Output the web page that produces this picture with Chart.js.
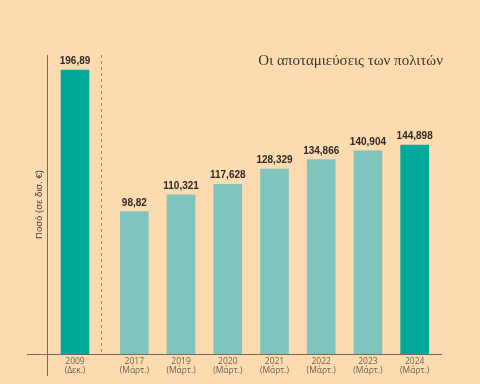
<!DOCTYPE html>
<html>
<head>
<meta charset="utf-8">
<script src="https://cdn.jsdelivr.net/npm/chart.js@4"></script>
<style>
  html, body { margin: 0; padding: 0; background: #fddbb1; }
  #wrap { width: 480px; height: 384px; }
</style>
</head>
<body>
<div id="wrap"><canvas id="apotamieuseis"></canvas></div>
<script>
const etiketesEtos = ["2009", "2017", "2019", "2020", "2021", "2022", "2023", "2024"];
const etiketesMinas = ["(Δεκ.)", "(Μάρτ.)", "(Μάρτ.)", "(Μάρτ.)", "(Μάρτ.)", "(Μάρτ.)", "(Μάρτ.)", "(Μάρτ.)"];
const poso = [196.89, 98.82, 110.321, 117.628, 128.329, 134.866, 140.904, 144.898];
const posoKeimeno = ["196,89", "98,82", "110,321", "117,628", "128,329", "134,866", "140,904", "144,898"];
const titlos = "Οι αποταμιεύσεις των πολιτών";
const titlosAxona = "Ποσό (σε δισ. €)";

// extra space between 2009 and the rest (in bar slots)
const kenoOmadas = 0.27;
const theseis = poso.map((v, i) => i === 0 ? 0 : i + kenoOmadas);

const skouroPrasino = "#00a99a";
const anoixtoPrasino = "#80c4be";
const xromata = poso.map((v, i) => (i === 0 || i === poso.length - 1) ? skouroPrasino : anoixtoPrasino);

const grammesPlugin = {
    id: "grammes",
    beforeDatasetsDraw(chart) {
        const ctx = chart.ctx;
        const x = chart.scales.x;
        const y = chart.scales.y;
        const base = y.getPixelForValue(0);
        const left = chart.chartArea.left;
        ctx.save();
        ctx.strokeStyle = "#7a6a5a";
        ctx.lineWidth = 1;
        // y axis line
        ctx.beginPath();
        ctx.moveTo(Math.round(left) - 0.5, 55);
        ctx.lineTo(Math.round(left) - 0.5, 376);
        ctx.stroke();
        // baseline
        ctx.beginPath();
        ctx.moveTo(27, Math.round(base) + 0.5);
        ctx.lineTo(442, Math.round(base) + 0.5);
        ctx.stroke();
        // dashed separator
        const dx = (x.getPixelForValue(theseis[0]) + x.getPixelForValue(theseis[1])) / 2 - 4;
        ctx.strokeStyle = "#9a8a7a";
        ctx.setLineDash([3, 3]);
        ctx.beginPath();
        ctx.moveTo(Math.round(dx) + 0.5, 55);
        ctx.lineTo(Math.round(dx) + 0.5, base);
        ctx.stroke();
        ctx.restore();
    },
    afterDraw(chart) {
        const ctx = chart.ctx;
        const meta = chart.getDatasetMeta(0);
        const area = chart.chartArea;
        ctx.save();
        ctx.fillStyle = "#2e2a26";
        ctx.font = "bold 10px 'Liberation Sans'";
        ctx.textAlign = "center";
        ctx.textBaseline = "alphabetic";
        meta.data.forEach((bar, i) => {
            ctx.fillText(posoKeimeno[i], bar.x, bar.y - 6);
        });
        ctx.fillStyle = "#3a3530";
        ctx.font = "15px 'Liberation Serif'";
        ctx.textAlign = "right";
        ctx.textBaseline = "middle";
        ctx.fillText(titlos, 443, 61);
        // y axis title
        ctx.fillStyle = "#4a4038";
        ctx.font = "500 9.5px 'Liberation Sans'";
        ctx.textAlign = "center";
        ctx.translate(39, (area.top + area.bottom) / 2);
        ctx.rotate(-Math.PI / 2);
        ctx.fillText(titlosAxona, 0, 0);
        ctx.restore();
    }
};

new Chart(document.getElementById("apotamieuseis"), {
    type: "bar",
    data: {
        datasets: [{
            data: poso.map((v, i) => ({ x: theseis[i], y: v })),
            backgroundColor: xromata,
            barThickness: 28,
            borderWidth: 0
        }]
    },
    plugins: [grammesPlugin],
    options: {
        responsive: true,
        maintainAspectRatio: false,
        animation: false,
        layout: { padding: { left: 48, right: 38, top: 55, bottom: 0 } },
        plugins: {
            legend: { display: false },
            tooltip: { enabled: false }
        },
        scales: {
            x: {
                type: "linear",
                offset: false,
                min: -0.578,
                max: 7.855,
                grid: { display: false, drawTicks: false },
                border: { display: false },
                afterBuildTicks(scale) {
                    scale.ticks = theseis.map(v => ({ value: v }));
                },
                afterFit(scale) { scale.height = 30; scale.paddingLeft = 0; scale.paddingRight = 0; },
                ticks: {
                    autoSkip: false,
                    maxRotation: 0,
                    padding: 3,
                    color: "#6b5f55",
                    font: { family: "'Open Sans'", size: 8.5, lineHeight: 1.1 },
                    callback: (value, index) => [etiketesEtos[index], etiketesMinas[index]]
                }
            },
            y: {
                display: false,
                min: 0,
                max: 207.4
            }
        }
    }
});
</script>
</body>
</html>
